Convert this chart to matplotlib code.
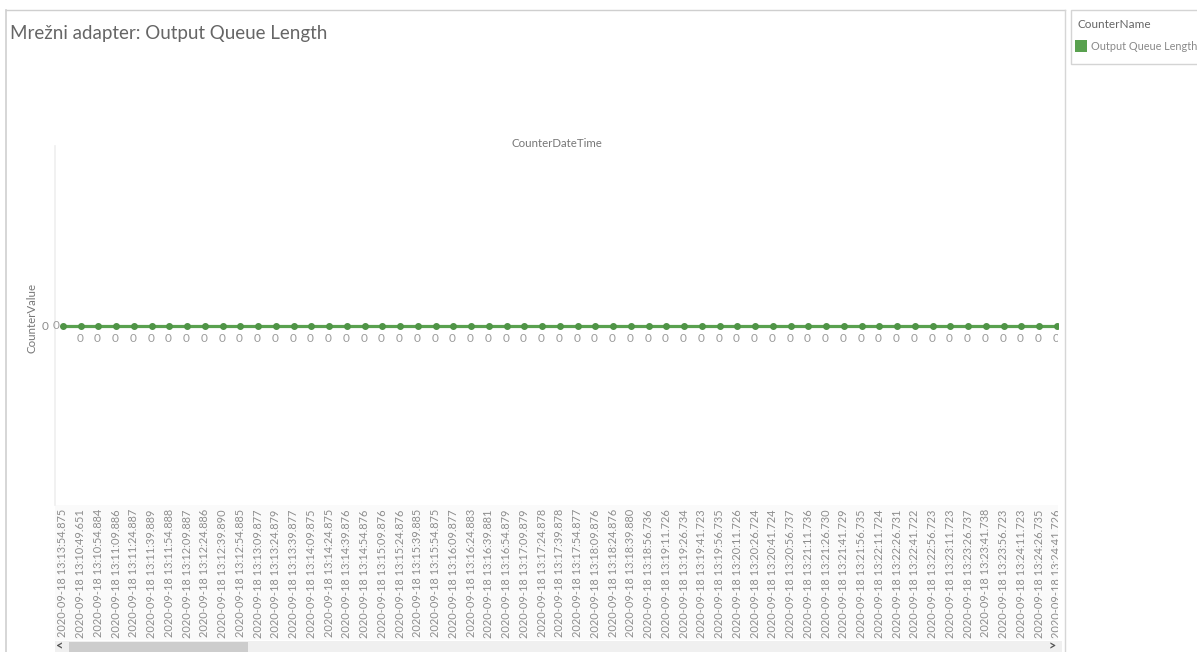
import matplotlib
matplotlib.use("Agg")
import matplotlib.pyplot as plt
from matplotlib.patches import Rectangle
from matplotlib.lines import Line2D

plt.rcParams["font.family"] = ["Lato", "DejaVu Sans"]

title_text = "Mrežni adapter: Output Queue Length"
x_field = "CounterDateTime"
y_field = "CounterValue"
legend_field = "CounterName"
series_name = "Output Queue Length"

counter_times = [
    "2020-09-18 13:13:54.875", "2020-09-18 13:10:49.651", "2020-09-18 13:10:54.884",
    "2020-09-18 13:11:09.886", "2020-09-18 13:11:24.887", "2020-09-18 13:11:39.889",
    "2020-09-18 13:11:54.888", "2020-09-18 13:12:09.887", "2020-09-18 13:12:24.886",
    "2020-09-18 13:12:39.890", "2020-09-18 13:12:54.885", "2020-09-18 13:13:09.877",
    "2020-09-18 13:13:24.879", "2020-09-18 13:13:39.877", "2020-09-18 13:14:09.875",
    "2020-09-18 13:14:24.875", "2020-09-18 13:14:39.876", "2020-09-18 13:14:54.876",
    "2020-09-18 13:15:09.876", "2020-09-18 13:15:24.876", "2020-09-18 13:15:39.885",
    "2020-09-18 13:15:54.875", "2020-09-18 13:16:09.877", "2020-09-18 13:16:24.883",
    "2020-09-18 13:16:39.881", "2020-09-18 13:16:54.879", "2020-09-18 13:17:09.879",
    "2020-09-18 13:17:24.878", "2020-09-18 13:17:39.878", "2020-09-18 13:17:54.877",
    "2020-09-18 13:18:09.876", "2020-09-18 13:18:24.876", "2020-09-18 13:18:39.880",
    "2020-09-18 13:18:56.736", "2020-09-18 13:19:11.726", "2020-09-18 13:19:26.734",
    "2020-09-18 13:19:41.723", "2020-09-18 13:19:56.735", "2020-09-18 13:20:11.726",
    "2020-09-18 13:20:26.724", "2020-09-18 13:20:41.724", "2020-09-18 13:20:56.737",
    "2020-09-18 13:21:11.736", "2020-09-18 13:21:26.730", "2020-09-18 13:21:41.729",
    "2020-09-18 13:21:56.735", "2020-09-18 13:22:11.724", "2020-09-18 13:22:26.731",
    "2020-09-18 13:22:41.722", "2020-09-18 13:22:56.723", "2020-09-18 13:23:11.723",
    "2020-09-18 13:23:26.737", "2020-09-18 13:23:41.738", "2020-09-18 13:23:56.723",
    "2020-09-18 13:24:11.723", "2020-09-18 13:24:26.735", "2020-09-18 13:24:41.726",
]
counter_values = [
    0, 0, 0, 0, 0, 0, 0, 0, 0, 0, 0, 0, 0, 0, 0, 0, 0, 0, 0,
    0, 0, 0, 0, 0, 0, 0, 0, 0, 0, 0, 0, 0, 0, 0, 0, 0, 0, 0,
    0, 0, 0, 0, 0, 0, 0, 0, 0, 0, 0, 0, 0, 0, 0, 0, 0, 0, 0,
]

W, H = 1197, 652
GREEN = "#59a14f"
TXT = "#8c8c8c"

fig = plt.figure(figsize=(W / 100, H / 100), dpi=100)
fig.patch.set_facecolor("white")


def fx(px):
    return px / W


def fy(py):
    return 1 - py / H


# worksheet frame
fig.add_artist(Line2D([fx(6), fx(1065)], [fy(10), fy(10)], color="#cfcfcf", lw=1))
fig.add_artist(Line2D([fx(6), fx(6)], [fy(10), 0], color="#cfcfcf", lw=1.2))
fig.add_artist(Line2D([fx(1065), fx(1065)], [fy(10), 0], color="#d6d6d6", lw=1))

# title
fig.text(fx(10), fy(34), title_text, fontsize=13.5, color="#666666",
         ha="left", va="center")

# light band behind the date labels
fig.add_artist(Rectangle((fx(55), fy(640)), fx(1058) - fx(55), fy(505) - fy(640),
                         facecolor="#fafafa", edgecolor="none", zorder=0))

ax_left, ax_right = 55, 1058
ax_top, ax_bottom = 146, 505
ax = fig.add_axes([fx(ax_left), fy(ax_bottom), fx(ax_right) - fx(ax_left),
                   fy(ax_top) - fy(ax_bottom)])
ax.set_facecolor("none")

idx = list(range(len(counter_times)))
ax.plot(idx, counter_values, color=GREEN, lw=2.3, solid_capstyle="butt",
        marker="o", markersize=4, markerfacecolor="#4f9446",
        markeredgecolor="#4f9446", zorder=3)

for i, v in zip(idx, counter_values):
    if i == 0:
        ax.annotate(str(v), (i, v), xytext=(-6.5, 0), textcoords="offset pixels",
                    ha="center", va="center", fontsize=8.5, color="#9a9a9a",
                    annotation_clip=False, clip_on=False)
    else:
        ax.annotate(str(v), (i, v), xytext=(-1, -13), textcoords="offset pixels",
                    ha="center", va="center", fontsize=8.5, color="#9a9a9a",
                    annotation_clip=False, clip_on=True)

ax.set_xlim(-0.45, 56.06)
ax.set_ylim(-1, 1)
ax.set_xticks(idx)
ax.set_xticklabels(counter_times, rotation=90, fontsize=7.9, color=TXT)
ax.tick_params(axis="x", length=0, pad=3)
ax.set_yticks([0])
ax.set_yticklabels(["0"], fontsize=8.5, color=TXT)
ax.tick_params(axis="y", length=0, pad=5)

for s in ["top", "right", "bottom"]:
    ax.spines[s].set_visible(False)
ax.spines["left"].set_color("#efefef")
ax.spines["left"].set_linewidth(1.2)

ax.set_xlabel(x_field, fontsize=8.3, color="#777777", labelpad=-1)
ax.xaxis.set_label_position("top")
ax.set_ylabel(y_field, fontsize=8.3, color="#777777")
ax.yaxis.set_label_coords((37 - ax_left) / (ax_right - ax_left), 0.52)

# the pane edge cuts off the last date label
fig.add_artist(Rectangle((fx(1057.5), fy(641)), fx(1064.4) - fx(1057.5), fy(500) - fy(641),
                         facecolor="white", edgecolor="none", zorder=10))

# horizontal scrollbar
fig.add_artist(Rectangle((fx(55), fy(652)), fx(1062) - fx(55), fy(641) - fy(652),
                         facecolor="#f0f0f0", edgecolor="none", zorder=11))
fig.add_artist(Rectangle((fx(69), fy(652)), fx(248) - fx(69), fy(642) - fy(652),
                         facecolor="#cdcdcd", edgecolor="none", zorder=12))
fig.text(fx(60), fy(646), "<", fontsize=9, color="#555555", ha="center", va="center",
         fontweight="bold", zorder=13)
fig.text(fx(1052), fy(646), ">", fontsize=9, color="#555555", ha="center", va="center",
         fontweight="bold", zorder=13)

# legend card
fig.add_artist(Rectangle((fx(1071), fy(64)), fx(1200) - fx(1071), fy(10) - fy(64),
                         facecolor="white", edgecolor="#d4d4d4", lw=1))
fig.text(fx(1078), fy(25), legend_field, fontsize=8.5, color="#666666",
         ha="left", va="center")
fig.add_artist(Rectangle((fx(1075), fy(52)), fx(12), fy(0) - fy(12),
                         facecolor=GREEN, edgecolor="none"))
fig.text(fx(1091), fy(46), series_name, fontsize=7.8, color="#8a8a8a",
         ha="left", va="center")

fig.savefig("out.png", dpi=100, facecolor="white")
